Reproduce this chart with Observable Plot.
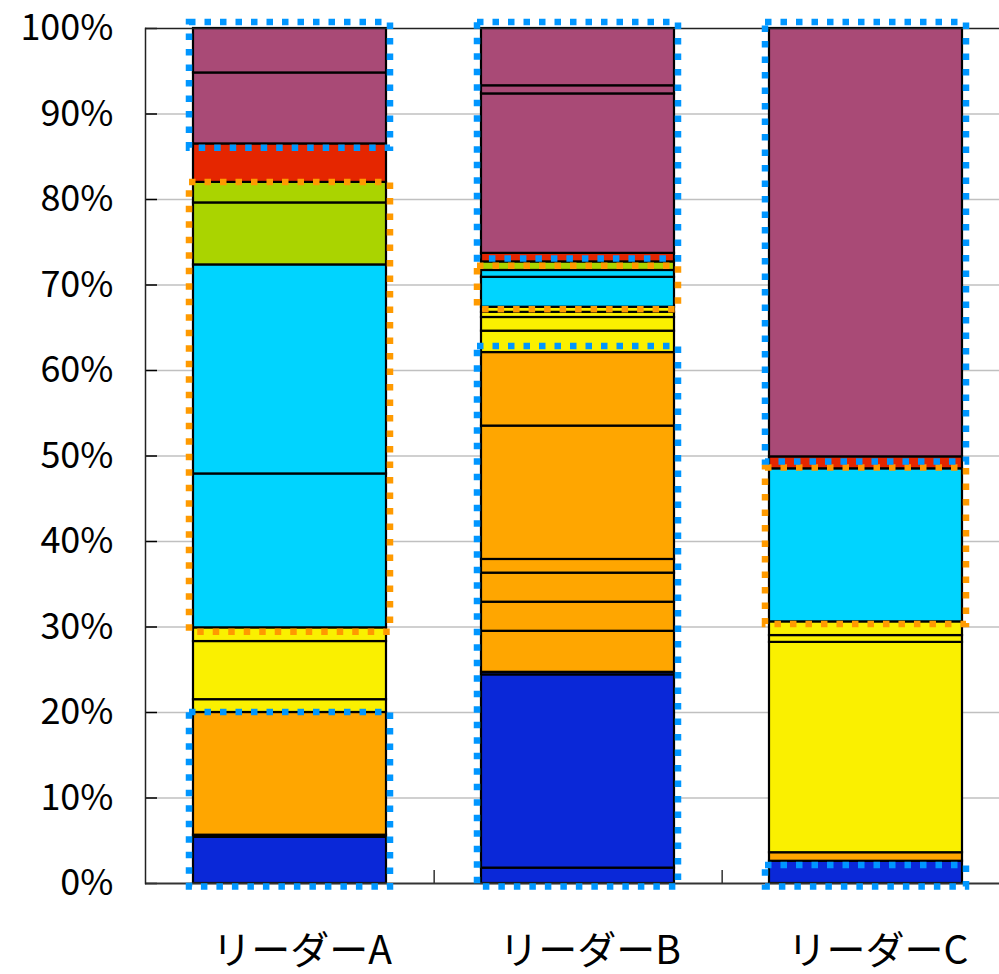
<!DOCTYPE html>
<html><head><meta charset="utf-8">
<script src="https://cdn.jsdelivr.net/npm/d3@7"></script>
<script src="https://cdn.jsdelivr.net/npm/@observablehq/plot@0.6"></script>
<style>body{margin:0;background:#fff;} svg{display:block;overflow:visible}</style>
</head><body><div id="chart"></div>
<script>
const categories = ["リーダーA", "リーダーB", "リーダーC"];

const seriesA = ["g_blue","g_blue","g_orange","g_yellow","g_yellow","g_yellow","g_cyan","g_cyan","g_green","g_green","g_red","g_purple","g_purple"];
const valuesA = [5.4, 0.25, 14.35, 1.5, 6.8, 1.6, 18.0, 24.45, 7.25, 2.4, 4.5, 8.3, 5.2];

const seriesB = ["g_blue","g_blue","g_blue","g_orange","g_orange","g_orange","g_orange","g_orange","g_orange","g_yellow","g_yellow","g_yellow","g_yellow","g_cyan","g_cyan","g_green","g_red","g_purple","g_purple","g_purple"];
const valuesB = [1.8, 22.6, 0.3, 4.8, 3.4, 3.4, 1.6, 15.6, 8.6, 2.5, 1.6, 0.6, 0.6, 3.5, 0.8, 1.0, 1.0, 18.65, 0.95, 6.7];

const seriesC = ["g_blue","g_orange","g_yellow","g_yellow","g_yellow","g_cyan","g_red","g_purple"];
const valuesC = [2.6, 1.0, 24.6, 0.8, 1.6, 17.9, 1.4, 50.1];

const groupKeys = ["g_blue","g_orange","g_yellow","g_cyan","g_green","g_red","g_purple"];
const groupColors = ["#0a28d8","#ffa600","#faf000","#00d4ff","#aad400","#e52600","#a94a76"];

// dotted highlight boxes (in % units)
const boxCategory = ["リーダーA","リーダーA","リーダーA","リーダーB","リーダーB","リーダーB","リーダーC","リーダーC","リーダーC"];
const boxKind = ["blue","orange","blue","blue","orange","blue","blue","orange","blue"];
const boxLow = [-0.4, 29.4, 86.0, -0.4, 67.1, 73.05, -0.4, 30.3, 49.3];
const boxHigh = [20.0, 82.0, 100.7, 62.8, 72.2, 100.7, 2.1, 48.6, 100.7];

const yTicks = [0,10,20,30,40,50,60,70,80,90,100];
const gridTicks = [10,20,30,40,50,60,70,80,90];

const rows = [];
[[seriesA, valuesA], [seriesB, valuesB], [seriesC, valuesC]].forEach(([s, v], i) => {
  s.forEach((g, j) => rows.push({cat: categories[i], group: g, value: v[j]}));
});
const boxes = boxCategory.map((c, i) => ({cat: c, kind: boxKind[i], lo: boxLow[i], hi: boxHigh[i]}));

const W = 999, H = 974, mL = 145, mT = 28, mB = 91;
const xRange = [145, 1010];
const step = (xRange[1] - xRange[0]) / categories.length;
const frameH = H - mT - mB;

const plot = Plot.plot({
  width: W, height: H,
  marginTop: mT, marginBottom: mB, marginLeft: mL, marginRight: 0,
  style: {fontFamily: "'Noto Sans CJK JP', 'Noto Sans', sans-serif", background: "#fff", color: "#000", overflow: "visible"},
  x: {type: "band", domain: categories, range: xRange, paddingInner: 0.33, paddingOuter: 0.165, align: 0.5, axis: null},
  y: {domain: [0, 100], axis: null},
  color: {domain: groupKeys, range: groupColors},
  marks: [
    Plot.ruleY(gridTicks, {stroke: "#c0c0c0", strokeWidth: 1.5}),
    Plot.tickY(yTicks, {y: d => d, stroke: "#000", strokeWidth: 1.5, insetRight: (W - mL) - 12}),
    Plot.tickX(categories.slice(0, 2), {x: d => d, dx: step / 2, stroke: "#333", strokeWidth: 1.5, insetTop: frameH - 13}),
    Plot.barY(rows, Plot.stackY({x: "cat", y: "value", fill: "group", stroke: "#000", strokeWidth: 2.2})),
    Plot.ruleY([100], {stroke: "#222", strokeWidth: 1.5}),
    Plot.ruleY([0], {stroke: "#333", strokeWidth: 2}),
    Plot.frame({anchor: "left", stroke: "#222", strokeWidth: 1.5}),
    Plot.barY(boxes.filter(d => d.kind === "orange"), {x: "cat", y1: "lo", y2: "hi", fill: "none", stroke: "#ff9a00", strokeWidth: 6.5, strokeDasharray: "6.5,9", insetLeft: -4, insetRight: -4}),
    Plot.barY(boxes.filter(d => d.kind === "blue"), {x: "cat", y1: "lo", y2: "hi", fill: "none", stroke: "#0096ff", strokeWidth: 6.5, strokeDasharray: "6.5,9", insetLeft: -4, insetRight: -4}),
    Plot.axisY(yTicks, {tickSize: 0, tickPadding: 32, fontSize: 36, letterSpacing: 1.5, tickFormat: d => d + "%"}),
    Plot.text(categories, {x: d => d, frameAnchor: "bottom", dy: 80, dx: 12, fontSize: 39, textAnchor: "middle"})
  ]
});
document.getElementById("chart").appendChild(plot);
</script>
</body></html>
